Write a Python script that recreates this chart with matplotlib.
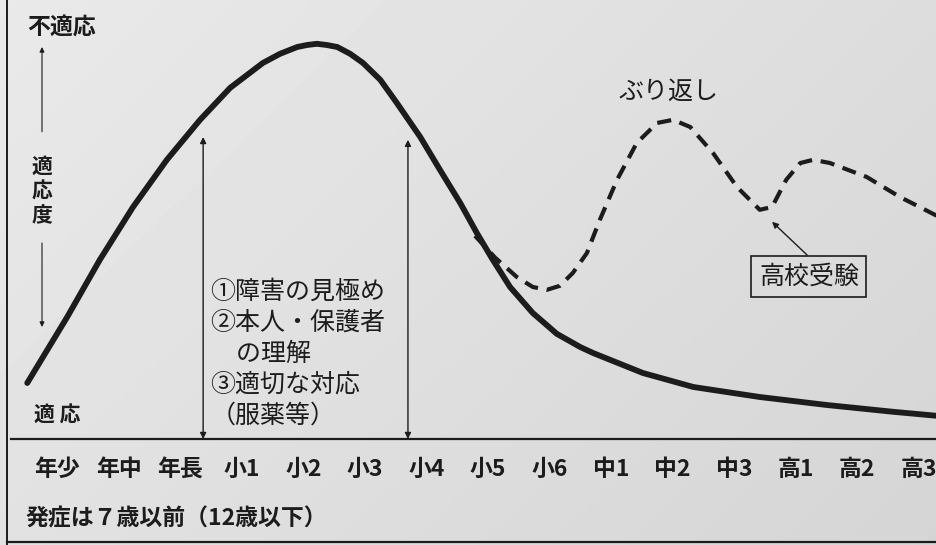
import numpy as np
import matplotlib
matplotlib.use('Agg')
import matplotlib.pyplot as plt

# fuente con glifos japoneses
plt.rcParams['font.family'] = ['Noto Sans CJK JP', 'DejaVu Sans']

# etapas escolares (eje X)
etapas = ['年少', '年中', '年長', '小1', '小2', '小3', '小4', '小5', '小6',
          '中1', '中2', '中3', '高1', '高2', '高3']

# curva principal (x = indice de etapa, y = grado de inadaptacion)
x_curva = [-0.49, 0.16, 0.69, 1.23, 1.78, 2.32, 2.81, 3.34, 3.62, 3.90, 4.06,
           4.22, 4.38, 4.55, 4.76, 4.97, 5.25, 5.52, 5.90, 6.22, 6.55, 6.82,
           7.08, 7.36, 7.73, 8.12, 8.50, 8.71, 9.52, 10.34, 11.42, 12.51,
           13.59, 14.30]
y_curva = [14.0, 30.5, 44.8, 58.0, 69.8, 79.8, 87.8, 94.0, 96.3, 98.0, 98.5,
           98.8, 98.5, 98.0, 96.3, 94.0, 89.8, 84.0, 75.5, 67.3, 59.0, 51.5,
           44.8, 38.0, 31.5, 26.3, 23.0, 21.5, 16.5, 13.0, 10.5, 8.5,
           6.8, 5.8]

# curva de recaida (ぶり返し)
x_recaida = [6.79, 7.12, 7.47, 7.73, 7.96, 8.17, 8.38, 8.61, 8.82, 9.10, 9.42,
             9.75, 10.01, 10.29, 10.66, 11.05, 11.42, 11.62, 11.85, 12.08,
             12.29, 12.56, 13.16, 13.70, 14.30]
y_recaida = [50.8, 45.3, 40.5, 38.0, 37.3, 38.3, 41.5, 46.5, 54.8, 64.8, 74.0,
             79.0, 79.8, 78.0, 71.5, 63.0, 57.3, 58.0, 64.8, 69.0, 69.8, 69.0,
             65.5, 60.5, 55.8]

# textos
lineas = ['①障害の見極め', '②本人・保護者', '　の理解', '③適切な対応', '（服薬等）']
nota = '発症は７歳以前（12歳以下）'

tinta = '#1c1c1c'

fig = plt.figure(figsize=(9.37, 5.45), dpi=100)
ax = fig.add_axes([0, 0, 1, 1])

xmin, xmax = -0.933, 14.302
ymin, ymax = -26.5, 109.75

# fondo de papel con un ligero degradado
gx, gy = np.meshgrid(np.linspace(0, 1, 200), np.linspace(0, 1, 120))
fondo = 0.915 - 0.05 * gx - 0.03 * gy
ax.imshow(fondo, extent=[xmin, xmax, ymin, ymax], cmap='gray', vmin=0, vmax=1,
          aspect='auto', origin='upper', zorder=0)

# marco y linea base
ax.axhline(0, xmin=0.012, color=tinta, lw=1.6, zorder=2)
ax.axvline(-0.82, color=tinta, lw=1.4, zorder=2)
ax.plot([-0.82, xmax], [-25.8, -25.8], color=tinta, lw=1.6, zorder=2)

# curvas
ax.plot(x_curva, y_curva, color=tinta, lw=4.2, solid_capstyle='round',
        solid_joinstyle='round', zorder=4)
ax.plot(x_recaida, y_recaida, color=tinta, lw=3.0, dashes=(3.4, 2.1),
        dash_capstyle='butt', zorder=3)

# flechas verticales dobles
for xf, yf in [(2.37, 75.5), (5.70, 74.8)]:
    ax.annotate('', xy=(xf, yf), xytext=(xf, 0),
                arrowprops=dict(arrowstyle='<|-|>', color=tinta, lw=1.0,
                                mutation_scale=9, shrinkA=0, shrinkB=0))

# eje de adaptacion a la izquierda
ax.text(0.075, 103, '不適応', fontsize=16.5, fontweight='bold', color=tinta,
        ha='center', va='center')
ax.annotate('', xy=(-0.25, 98), xytext=(-0.25, 76.8),
            arrowprops=dict(arrowstyle='-|>', color=tinta, lw=0.8,
                            mutation_scale=7, shrinkA=0, shrinkB=0))
ax.text(-0.25, 62.0, '適\n応\n度', fontsize=15, fontweight='bold', color=tinta,
        ha='center', va='center', linespacing=1.2)
ax.annotate('', xy=(-0.25, 28), xytext=(-0.25, 49),
            arrowprops=dict(arrowstyle='-|>', color=tinta, lw=0.8,
                            mutation_scale=7, shrinkA=0, shrinkB=0))
ax.text(0.0, 6.0, '適 応', fontsize=15, fontweight='bold', color=tinta,
        ha='center', va='center')

# bloque de texto entre flechas
for k, linea in enumerate(lineas):
    ax.text(2.49, 36.75 - 7.7 * k, linea, fontsize=18, color=tinta,
            ha='left', va='center')

# etiquetas de recaida
ax.text(9.93, 86.75, 'ぶり返し', fontsize=18, color=tinta, ha='center', va='center')
ax.annotate('', xy=(11.62, 54.3), xytext=(12.19, 46.0),
            arrowprops=dict(arrowstyle='-|>', color=tinta, lw=1.0,
                            mutation_scale=9, shrinkA=0, shrinkB=0))
ax.text(12.22, 40.6, '高校受験', fontsize=18, color=tinta, ha='center', va='center',
        bbox=dict(boxstyle='square,pad=0.3', fc='none', ec=tinta, lw=1.2))

# etiquetas del eje X
for i, etapa in enumerate(etapas):
    ax.text(i, -7.6, etapa, fontsize=16.5, fontweight='bold', color=tinta,
            ha='center', va='center')

ax.text(-0.52, -20.0, nota, fontsize=16.5, fontweight='bold', color=tinta,
        ha='left', va='center')

ax.set_xlim(xmin, xmax)
ax.set_ylim(ymin, ymax)
ax.axis('off')

plt.savefig('out.png', dpi=100)
